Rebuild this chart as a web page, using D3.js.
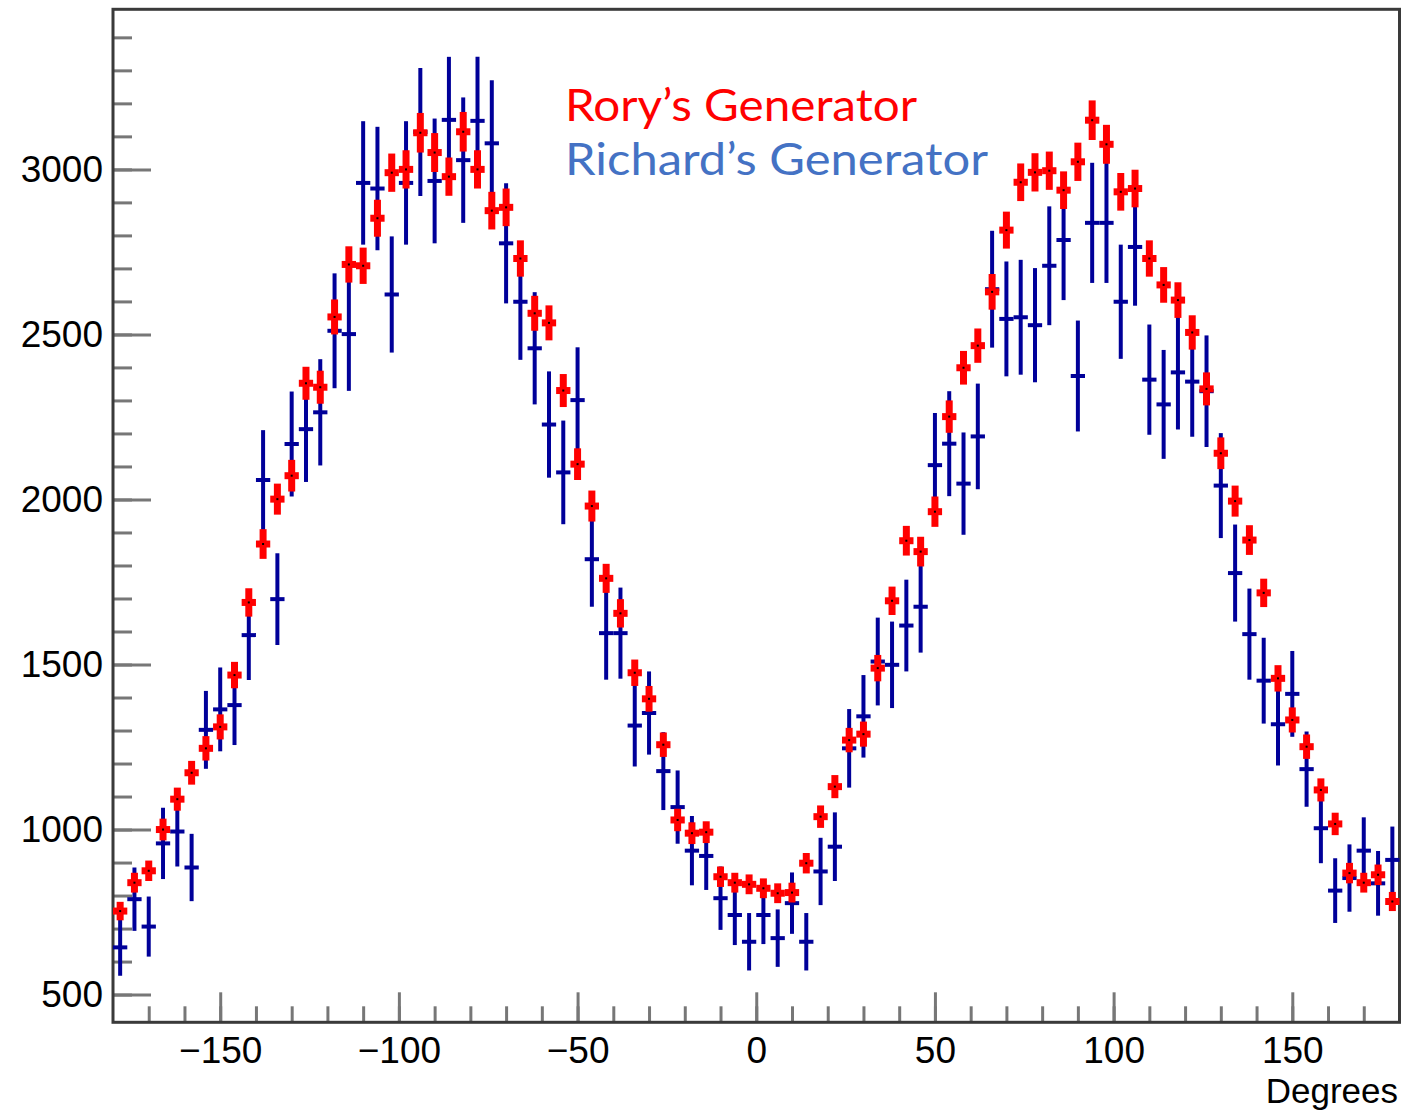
<!DOCTYPE html>
<html>
<head>
<meta charset="utf-8">
<script src="https://cdn.jsdelivr.net/npm/d3@7"></script>
<style>
  body { margin: 0; background: #fff; }
  .ticklabel { font-family: "Liberation Sans", Arial, sans-serif; font-size: 37px; fill: #000; }
</style>
</head>
<body>
<div id="chart"></div>
<script>
// Bin edges of the histogram, 4 degree bins
var binEdges = d3.range(-180, 181, 4);
var binCenters = binEdges.slice(0, -1).map(function(e) { return e + 2; });

// Rory's generator (red)
var roryValues = [753, 839, 875, 1000, 1092, 1172, 1246, 1311, 1468, 1688,
  1865, 2001, 2072, 2352, 2340, 2553, 2712, 2708, 2852, 2990,
  3000, 3111, 3051, 2978, 3114, 3000, 2875, 2885, 2730, 2564,
  2535, 2330, 2107, 1980, 1761, 1655, 1475, 1396, 1257, 1029,
  989, 992, 857, 839, 834, 822, 807, 809, 898, 1039,
  1130, 1271, 1289, 1489, 1693, 1875, 1842, 1963, 2251, 2399,
  2466, 2629, 2816, 2961, 2991, 2996, 2937, 3023, 3149, 3076,
  2932, 2942, 2730, 2650, 2604, 2506, 2335, 2140, 1995, 1877,
  1717, 1458, 1332, 1251, 1120, 1017, 868, 839, 863, 782];
var roryErrors = [28, 30, 31, 33, 35, 36, 37, 38, 40, 43,
  45, 47, 48, 50, 50, 53, 55, 55, 56, 58,
  58, 60, 59, 58, 60, 58, 57, 57, 55, 53,
  53, 50, 48, 47, 44, 43, 40, 39, 37, 34,
  33, 33, 31, 30, 30, 30, 30, 30, 31, 34,
  35, 37, 38, 40, 43, 45, 45, 46, 49, 51,
  52, 54, 56, 57, 58, 58, 57, 58, 60, 59,
  57, 57, 55, 54, 54, 52, 50, 48, 47, 45,
  43, 40, 38, 37, 35, 34, 31, 30, 31, 29];

// Richard's generator (blue)
var richardValues = [643, 789, 706, 958, 994, 885, 1302, 1364, 1377, 1589,
  2059, 1698, 2168, 2213, 2264, 2511, 2501, 2959, 2942, 2621,
  2959, 3113, 2965, 3150, 3028, 3147, 3079, 2776, 2599, 2458,
  2227, 2082, 2301, 1819, 1595, 1595, 1315, 1353, 1177, 1068,
  936, 920, 792, 741, 660, 741, 671, 777, 660, 873,
  948, 1246, 1343, 1509, 1499, 1618, 1675, 2104, 2169, 2048,
  2191, 2637, 2547, 2552, 2528, 2708, 2786, 2374, 2838, 2838,
  2599, 2765, 2363, 2288, 2385, 2357, 2328, 2042, 1777, 1592,
  1451, 1319, 1411, 1183, 1004, 815, 853, 936, 837, 908];
var richardErrors = [86, 96, 91, 108, 106, 102, 118, 127, 121, 136,
  151, 139, 159, 160, 161, 174, 172, 187, 187, 176,
  187, 194, 189, 191, 190, 194, 191, 182, 176, 170,
  161, 157, 160, 144, 141, 138, 124, 126, 118, 111,
  105, 103, 96, 91, 87, 88, 87, 93, 87, 102,
  104, 119, 125, 133, 131, 139, 139, 158, 159, 155,
  160, 177, 174, 174, 173, 180, 182, 168, 182, 182,
  173, 178, 167, 165, 173, 167, 169, 159, 147, 138,
  130, 125, 130, 114, 106, 98, 102, 101, 98, 101];

// Axis ticks
var xMajorTicks = [-150, -100, -50, 0, 50, 100, 150];
var xMinorTicks = d3.range(-170, 171, 10);
var yMajorTicks = [500, 1000, 1500, 2000, 2500, 3000];
var yMinorTicks = d3.range(500, 3401, 100);

var legendLabels = ["Rory\u2019s Generator", "Richard\u2019s Generator"];

var width = 1407, height = 1116;
var frame = {left: 113, right: 1399.5, top: 9.3, bottom: 1022.3};

var svg = d3.select("#chart")
  .append("svg")
  .attr("width", width)
  .attr("height", height);

svg.append("rect").attr("width", width).attr("height", height).attr("fill", "#fff");

var x = d3.scaleLinear().domain([-180, 180]).range([frame.left, frame.right]);
var y = d3.scaleLinear().domain([416, 3485]).range([frame.bottom, frame.top]);

// Minor + major ticks on X
var xMinor = svg.append("g")
  .attr("transform", "translate(0," + frame.bottom + ")")
  .call(d3.axisBottom(x).tickValues(xMinorTicks).tickSize(-16).tickFormat(""));
var xMajor = svg.append("g")
  .attr("transform", "translate(0," + frame.bottom + ")")
  .call(d3.axisBottom(x).tickValues(xMajorTicks).tickSize(-30).tickPadding(14)
    .tickFormat(function(d) { return d < 0 ? "\u2212" + Math.abs(d) : d; }));

// Minor + major ticks on Y
var yMinor = svg.append("g")
  .attr("transform", "translate(" + frame.left + ",0)")
  .call(d3.axisLeft(y).tickValues(yMinorTicks).tickSize(-19).tickFormat(""));
var yMajor = svg.append("g")
  .attr("transform", "translate(" + frame.left + ",0)")
  .call(d3.axisLeft(y).tickValues(yMajorTicks).tickSize(-38).tickPadding(10)
    .tickFormat(d3.format("d")));

[xMinor, xMajor, yMinor, yMajor].forEach(function(g) {
  g.select(".domain").remove();
  g.selectAll(".tick line").attr("stroke", "#777").attr("stroke-width", 3);
  g.selectAll(".tick text").attr("class", "ticklabel");
});
xMajor.selectAll(".tick text").attr("dy", "0.71em");

// Frame
svg.append("rect")
  .attr("x", frame.left).attr("y", frame.top)
  .attr("width", frame.right - frame.left).attr("height", frame.bottom - frame.top)
  .attr("fill", "none").attr("stroke", "#3a3a3a").attr("stroke-width", 3);

// Axis title
svg.append("text")
  .attr("x", 1398).attr("y", 1103)
  .attr("text-anchor", "end")
  .attr("class", "ticklabel")
  .style("font-size", "35px")
  .text("Degrees");

var binHalf = 2;

function drawSeries(values, errors, color, vWidth, hWidth) {
  var g = svg.append("g");
  var data = values.map(function(v, i) { return {c: binCenters[i], v: v, e: errors[i]}; });
  g.selectAll("line.v").data(data).enter().append("line")
    .attr("x1", function(d) { return x(d.c); })
    .attr("x2", function(d) { return x(d.c); })
    .attr("y1", function(d) { return y(d.v + d.e); })
    .attr("y2", function(d) { return y(d.v - d.e); })
    .attr("stroke", color).attr("stroke-width", vWidth);
  g.selectAll("line.h").data(data).enter().append("line")
    .attr("x1", function(d) { return x(d.c - binHalf); })
    .attr("x2", function(d) { return x(d.c + binHalf); })
    .attr("y1", function(d) { return y(d.v); })
    .attr("y2", function(d) { return y(d.v); })
    .attr("stroke", color).attr("stroke-width", hWidth);
  return g;
}

drawSeries(richardValues, richardErrors, "#000099", 4, 4);
var red = drawSeries(roryValues, roryErrors, "#ff0000", 7, 7);

// small black dot marker at each red point
red.selectAll("rect.dot").data(roryValues).enter().append("rect")
  .attr("x", function(d, i) { return x(binCenters[i]) - 1; })
  .attr("y", function(d) { return y(d) - 1; })
  .attr("width", 2).attr("height", 2)
  .attr("fill", "#000");

// Legend text
svg.append("text")
  .attr("x", 565).attr("y", 121)
  .attr("fill", "#ff0000")
  .attr("textLength", 352).attr("lengthAdjust", "spacingAndGlyphs")
  .style("font-family", "Lato, 'Open Sans', sans-serif")
  .style("font-size", "44px")
  .text(legendLabels[0]);

svg.append("text")
  .attr("x", 565).attr("y", 175)
  .attr("fill", "#4472c4")
  .attr("textLength", 423).attr("lengthAdjust", "spacingAndGlyphs")
  .style("font-family", "Lato, 'Open Sans', sans-serif")
  .style("font-size", "44px")
  .text(legendLabels[1]);
</script>
</body>
</html>
